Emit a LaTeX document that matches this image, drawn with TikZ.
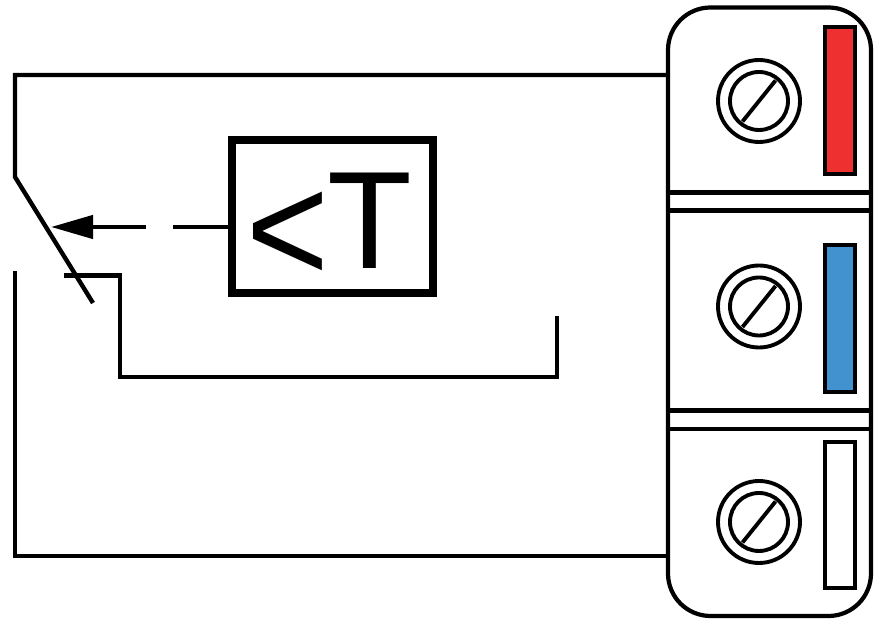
\documentclass[tikz,border=0pt]{standalone}
\usepackage{fontspec}
\setmainfont{Liberation Sans}
\usetikzlibrary{arrows.meta}
\usetikzlibrary{calc}
\definecolor{barred}{HTML}{EE3030}
\definecolor{barblue}{HTML}{4292D0}
\tikzset{
    wire/.style={line width=2.5pt},
    housing/.style={draw, line width=2.4pt, rounded corners=0.85cm, minimum width=4.06cm, minimum height=12.17cm, inner sep=0pt, outer sep=0pt},
    sensorbox/.style={draw, line width=4.5pt, minimum width=4.02cm, minimum height=3.06cm, inner sep=0pt, outer sep=0pt},
    screw/.style={line width=2.2pt},
    bar/.style={draw, line width=2.5pt, minimum width=0.6cm, inner sep=0pt, outer sep=0pt}
}
\begin{document}
\begin{tikzpicture}
        \useasboundingbox (0, 0) rectangle (17.66, 12.5);

        \coordinate (W1) at (0.3, 11);
        \coordinate (W2) at (0.3, 8.96);
        \coordinate (W3) at (1.86, 6.44);
        \coordinate (W4) at (0.3, 7.08);
        \coordinate (W5) at (0.3, 1.38);
        \coordinate (C1) at (1.28, 6.99);
        \coordinate (C2) at (2.4, 6.99);
        \coordinate (C3) at (2.4, 4.96);
        \coordinate (C4) at (11.14, 4.96);
        \coordinate (C5) at (11.14, 6.18);
        \coordinate (Tip) at (1.02, 7.96);
        \coordinate (GapL) at (2.92, 7.96);
        \coordinate (GapR) at (3.46, 7.96);
        \coordinate (S1) at (15.18, 10.48);
        \coordinate (S2) at (15.18, 6.37);
        \coordinate (S3) at (15.18, 2.06);

        \node[housing] (case) at (15.39, 6.265) {};
        \node[sensorbox] (sensor) at (6.65, 8.17) {};
        \node[anchor=base west, inner sep=0pt, font=\fontsize{79pt}{79pt}\selectfont] (label) at (4.92, 7.12) {\raisebox{-0.28cm}{\scalebox{1.05}[1.15]{\fontsize{76.8pt}{76.8pt}\selectfont <}}\kern-0.04cm T};

        % wires
        \draw[wire] (case.west |- W1) -- (W1) -- (W2) -- (W3);
        \draw[wire] (W4) -- (W5) -- (case.west |- W5);
        \draw[wire] (C1) -- (C2) -- (C3) -- (C4) -- (C5);

        % dashed link to the switch
        \draw[wire] (sensor.west |- GapR) -- (GapR);
        \draw[wire, -{Triangle[length=0.84cm, width=0.46cm]}] (GapL) -- (Tip);

        % dividers
        \draw[wire] (case.west |- 0, 8.65) -- (case.east |- 0, 8.65);
        \draw[wire] (case.west |- 0, 8.29) -- (case.east |- 0, 8.29);
        \draw[wire] (case.west |- 0, 4.29) -- (case.east |- 0, 4.29);
        \draw[wire] (case.west |- 0, 3.92) -- (case.east |- 0, 3.92);

        % screws
        \draw[screw] (S1) circle (0.82) (S1) circle (0.58);
        \draw[screw] ($(S1) + (-0.33, -0.41)$) -- ($(S1) + (0.33, 0.41)$);
        \draw[screw] (S2) circle (0.82) (S2) circle (0.58);
        \draw[screw] ($(S2) + (-0.33, -0.41)$) -- ($(S2) + (0.33, 0.41)$);
        \draw[screw] (S3) circle (0.82) (S3) circle (0.58);
        \draw[screw] ($(S3) + (-0.33, -0.41)$) -- ($(S3) + (0.33, 0.41)$);

        % colour bars
        \node[bar, fill=barred, minimum height=2.94cm] (red) at (16.8, 10.49) {};
        \node[bar, fill=barblue, minimum height=2.94cm] (blue) at (16.8, 6.13) {};
        \node[bar, fill=white, minimum height=2.92cm] (blank) at (16.8, 2.2) {};

    \end{tikzpicture}
\end{document}
